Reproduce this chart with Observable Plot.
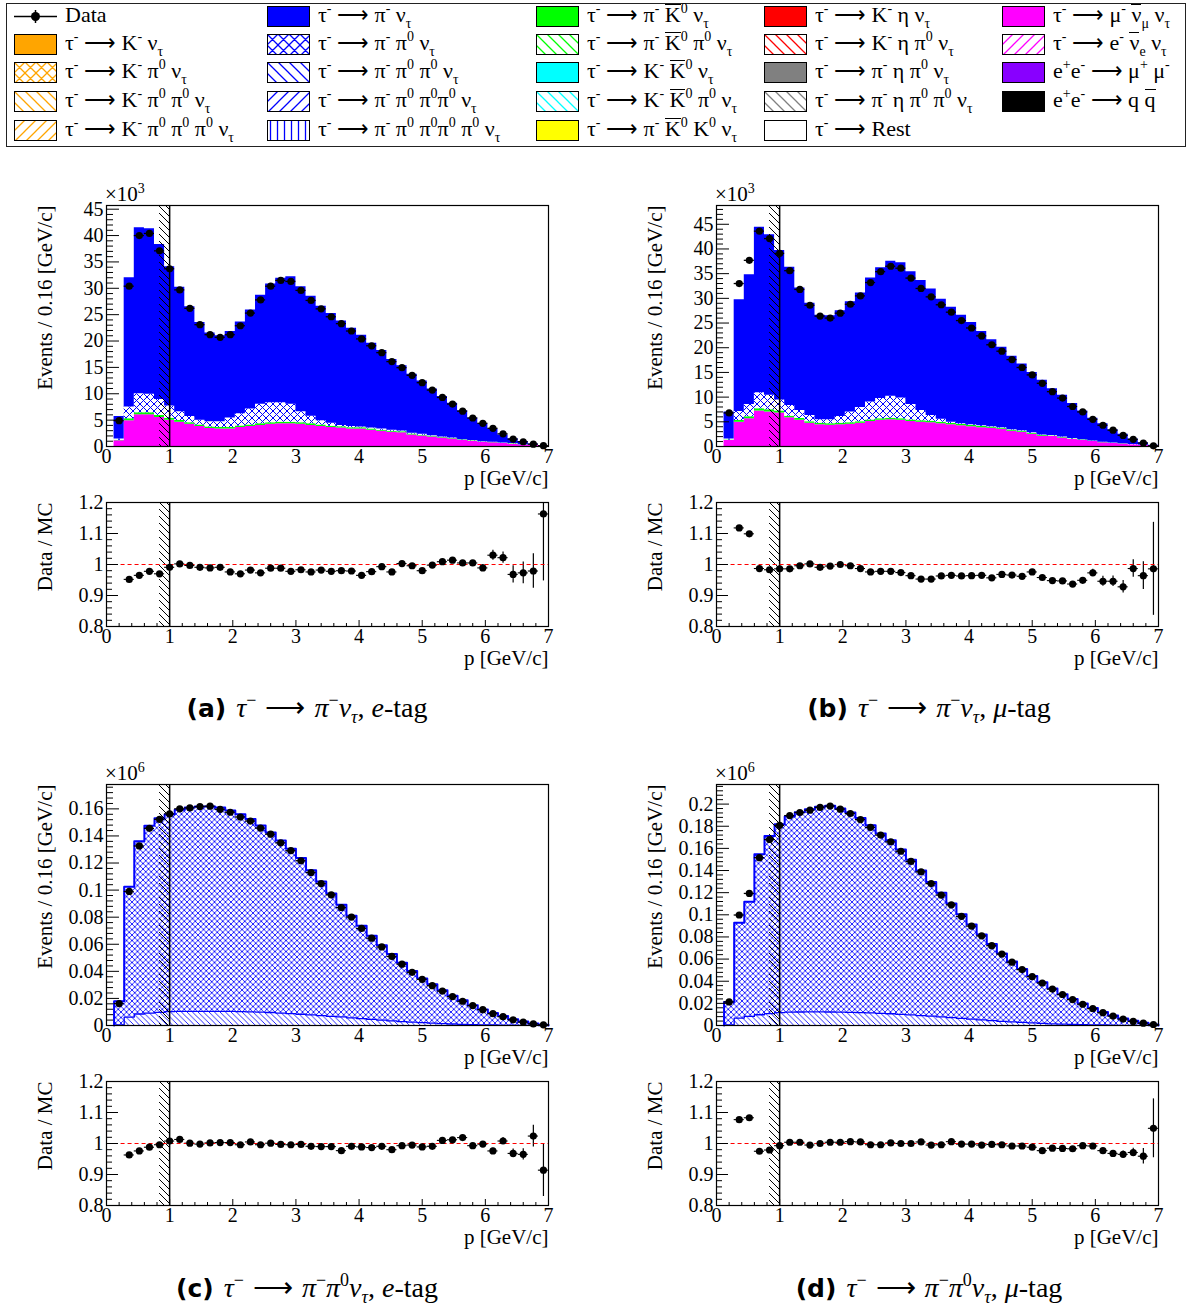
<!DOCTYPE html>
<html><head><meta charset="utf-8">
<script src="https://cdn.jsdelivr.net/npm/d3@7"></script>
<script src="https://cdn.jsdelivr.net/npm/@observablehq/plot@0.6"></script>
<style>
html,body{margin:0;padding:0;background:#fff;}
#root{position:relative;width:1190px;height:1307px;overflow:hidden;font-family:"Liberation Serif","Times New Roman",serif;color:#000;}
.pane{position:absolute;}
.pane svg{font-family:"Liberation Serif","Times New Roman",serif !important;}
.pane svg text{font-family:"Liberation Serif","Times New Roman",serif !important;}
#legendBox{position:absolute;left:6px;top:3px;width:1180px;height:144px;border:1px solid #222;box-sizing:border-box;}
.le{position:absolute;height:26px;line-height:26px;font-size:22px;white-space:nowrap;}
.sw{position:absolute;}
.su{font-size:14px;position:relative;top:-9px;}
.sb{font-size:14px;position:relative;top:6px;}
.ob{display:inline-block;line-height:19px;border-top:1.5px solid #000;}
.cap{position:absolute;text-align:center;font-size:28px;white-space:nowrap;line-height:32px;}
.cap b{font-family:"DejaVu Sans",sans-serif;font-size:25px;margin-right:10px;}
.cap .ar{margin:0 9px;}
.csu{font-size:18px;position:relative;top:-11px;}
.csb{font-size:18px;position:relative;top:6px;}
</style></head>
<body><div id="root"><div id="legendBox"></div></div>
<script>
// ---------------- data ----------------
const binLo = [0.12,0.28,0.44,0.60,0.76,0.92,1.08,1.24,1.40,1.56,1.72,1.88,2.04,2.20,2.36,2.52,2.68,2.84,3.00,3.16,3.32,3.48,3.64,3.80,3.96,4.12,4.28,4.44,4.60,4.76,4.92,5.08,5.24,5.40,5.56,5.72,5.88,6.04,6.20,6.36,6.52,6.68,6.84];
const BIN_W = 0.16;
const X_MAX = 7;
const exclusion = [0.84, 1.0];
const ratioLineStart = 0.12;

// (a) tau -> pi nu, e-tag   (units of 10^3)
const aTotal = [5.7,32.0,41.5,41.3,38.3,34.1,30.2,26.5,23.5,21.5,21.0,21.8,23.6,25.9,28.7,30.8,31.9,32.2,30.3,28.5,26.6,25.2,23.8,22.4,21.1,19.6,18.2,16.5,15.3,13.7,12.4,10.9,9.5,8.2,6.8,5.4,4.3,3.3,2.2,1.45,0.93,0.46,0.13];
const aData  = [4.9,30.4,40.0,40.4,37.1,33.7,29.7,26.2,23.1,21.2,20.7,21.2,22.9,25.3,27.8,30.4,31.5,31.3,29.6,27.7,26.1,24.6,23.3,21.9,20.4,19.1,17.8,16.1,14.95,13.5,12.1,10.7,9.3,8.05,6.7,5.4,4.4,3.45,2.4,1.4,0.9,0.45,0.15];
const aMuTop = [1.1,4.9,6.0,6.0,5.5,5.0,4.6,4.2,3.8,3.4,3.3,3.3,3.6,3.8,4.0,4.2,4.3,4.3,4.2,4.0,3.8,3.6,3.5,3.3,3.3,3.1,2.9,2.7,2.6,2.2,2.0,1.8,1.6,1.4,1.15,1.0,0.8,0.7,0.55,0.45,0.3,0.25,0.1];
const aGreen = [0.1,0.35,0.4,0.4,0.4,0.35,0.35,0.3,0.3,0.3,0.3,0.3,0.3,0.3,0.3,0.3,0.3,0.3,0.3,0.3,0.3,0.25,0.25,0.25,0.25,0.2,0.2,0.2,0.2,0.15,0.15,0.15,0.1,0.1,0.1,0.1,0.05,0.05,0.05,0.05,0.02,0.02,0.01];
const aPiPi0Top = [1.4,7.5,10.0,9.9,8.9,7.7,6.6,5.7,5.0,4.7,4.7,5.4,6.2,7.1,8.0,8.3,8.3,8.0,6.6,5.75,4.9,4.4,4.0,3.8,3.7,3.5,3.3,3.1,2.95,2.5,2.3,2.05,1.8,1.6,1.3,1.15,0.9,0.8,0.65,0.55,0.35,0.3,0.12];
const aRatio = [0.952,0.965,0.978,0.970,0.991,1.002,0.997,0.991,0.989,0.991,0.976,0.970,0.982,0.973,0.988,0.988,0.978,0.983,0.976,0.982,0.978,0.980,0.979,0.965,0.977,0.993,0.976,1.003,0.996,0.980,0.998,1.009,1.014,1.005,1.005,0.989,1.030,1.022,0.968,0.973,0.979,1.163];
const aRatioErr = [0.002,0.002,0.002,0.002,0.002,0.002,0.002,0.002,0.002,0.002,0.002,0.002,0.002,0.002,0.002,0.002,0.002,0.002,0.002,0.002,0.002,0.002,0.002,0.002,0.002,0.002,0.002,0.002,0.002,0.002,0.004,0.005,0.006,0.007,0.008,0.011,0.016,0.018,0.028,0.035,0.056,0.216];

// (b) tau -> pi nu, mu-tag   (units of 10^3)
const bTotal = [7.0,29.7,34.8,44.4,42.9,39.7,36.3,32.1,29.0,26.6,26.5,27.5,29.3,31.1,34.1,36.2,37.5,37.2,35.4,33.6,31.9,29.8,28.2,26.6,25.1,23.3,21.6,20.1,18.3,16.7,15.0,13.4,11.7,10.4,8.7,7.2,5.7,4.6,3.4,2.5,1.5,0.75,0.27];
const bData  = [6.8,33.0,37.7,43.6,42.1,39.1,35.6,31.8,28.6,26.4,26.0,27.0,28.8,30.5,33.2,35.4,36.5,36.1,34.1,32.0,30.3,28.7,27.2,25.5,24.0,22.4,20.6,19.3,17.6,16.0,14.5,12.8,11.1,9.8,8.1,7.0,5.5,4.3,3.3,2.25,1.45,0.7,0.14];
const bMuTop = [1.2,4.9,5.6,7.2,7.0,6.8,5.8,5.3,4.7,4.4,4.3,4.4,4.5,4.7,5.05,5.3,5.4,5.3,5.05,4.9,4.8,4.6,4.4,4.2,4.0,3.8,3.7,3.5,3.1,2.9,2.5,2.1,2.0,1.7,1.4,1.2,1.0,0.75,0.6,0.5,0.35,0.2,0.1];
const bGreen = [0.1,0.35,0.4,0.45,0.45,0.4,0.35,0.35,0.3,0.3,0.3,0.3,0.3,0.3,0.3,0.3,0.3,0.3,0.3,0.3,0.3,0.3,0.25,0.25,0.25,0.25,0.2,0.2,0.2,0.2,0.15,0.15,0.15,0.1,0.1,0.1,0.05,0.05,0.05,0.05,0.02,0.02,0.01];
const bPiPi0Top = [1.5,7.1,8.5,10.9,10.4,9.4,8.3,7.3,6.3,5.4,5.4,6.1,7.0,7.9,9.0,9.7,10.2,9.8,8.5,7.3,6.3,5.5,4.9,4.6,4.4,4.2,4.0,3.8,3.4,3.2,2.8,2.35,2.25,1.9,1.6,1.35,1.1,0.85,0.7,0.58,0.4,0.23,0.12];
const bRatio = [1.118,1.099,0.987,0.983,0.986,0.986,0.996,1.002,0.991,0.995,1.000,0.996,0.987,0.976,0.978,0.978,0.974,0.964,0.953,0.953,0.963,0.965,0.963,0.964,0.965,0.957,0.968,0.966,0.962,0.976,0.958,0.948,0.947,0.937,0.949,0.973,0.946,0.946,0.928,0.987,0.964,0.986];
const bRatioErr = [0.003,0.003,0.003,0.003,0.003,0.003,0.003,0.003,0.003,0.003,0.003,0.003,0.003,0.003,0.003,0.003,0.003,0.003,0.003,0.003,0.003,0.003,0.003,0.003,0.003,0.003,0.003,0.003,0.003,0.003,0.004,0.005,0.006,0.007,0.009,0.012,0.016,0.017,0.020,0.028,0.045,0.150];

// (c) tau -> pi pi0 nu, e-tag   (units of 10^6)
const cTotal = [0.018,0.1025,0.136,0.1476,0.153,0.1558,0.1593,0.161,0.1617,0.1617,0.161,0.1588,0.156,0.1525,0.1478,0.1426,0.1366,0.1306,0.1237,0.1147,0.1063,0.0975,0.0891,0.0811,0.0737,0.0662,0.0592,0.0528,0.0463,0.0403,0.0348,0.0304,0.0261,0.0219,0.0187,0.0149,0.0119,0.0092,0.007,0.0047,0.003,0.0015,0.0005];
const cData  = [0.0162,0.099,0.1326,0.1456,0.1523,0.1563,0.160,0.1607,0.1617,0.162,0.1597,0.1575,0.154,0.151,0.1458,0.1413,0.1349,0.1291,0.1217,0.113,0.1048,0.0965,0.0871,0.0801,0.0717,0.0645,0.058,0.051,0.0453,0.0393,0.0341,0.0294,0.0254,0.0214,0.0179,0.0147,0.0117,0.0087,0.0065,0.0042,0.0025,0.0012,0.0005];
const cPi2Pi0Top = [0.0005,0.0062,0.0085,0.0092,0.0097,0.0102,0.0104,0.0105,0.0105,0.0105,0.0105,0.0104,0.0103,0.0101,0.0099,0.0096,0.0092,0.0088,0.0083,0.0078,0.0073,0.0068,0.0063,0.0057,0.0051,0.0045,0.0039,0.0034,0.0029,0.0025,0.0021,0.0017,0.0014,0.0011,0.0009,0.0007,0.0005,0.0004,0.0003,0.0002,0.0001,0.0001,0.0];
const cRatio = [0.963,0.976,0.988,0.996,1.008,1.013,1.001,0.998,1.002,1.003,1.003,0.996,1.005,0.996,1.001,0.997,0.996,0.997,0.991,0.990,0.990,0.977,0.991,0.989,0.987,0.991,0.980,0.993,0.995,0.989,0.991,1.010,1.012,1.019,0.993,0.998,0.976,1.008,0.968,0.965,1.024,0.914];
const cRatioErr = [0.002,0.002,0.002,0.002,0.002,0.002,0.002,0.002,0.002,0.002,0.002,0.002,0.002,0.002,0.002,0.002,0.002,0.002,0.002,0.002,0.002,0.002,0.002,0.002,0.002,0.002,0.002,0.002,0.002,0.002,0.003,0.003,0.004,0.004,0.005,0.007,0.009,0.011,0.014,0.018,0.035,0.085];

// (d) tau -> pi pi0 nu, mu-tag   (units of 10^6)
const dTotal = [0.0213,0.0928,0.1117,0.1546,0.1711,0.1817,0.1887,0.1927,0.1954,0.1976,0.1985,0.196,0.1924,0.1875,0.1808,0.1735,0.1674,0.1589,0.1498,0.14,0.1297,0.1199,0.1102,0.1005,0.0913,0.0822,0.0737,0.0651,0.0578,0.0511,0.0447,0.039,0.0335,0.0283,0.024,0.0198,0.0158,0.0122,0.0091,0.0064,0.0043,0.0024,0.0009];
const dData  = [0.0213,0.0998,0.1193,0.1516,0.168,0.1808,0.1896,0.1924,0.1945,0.197,0.1982,0.1954,0.1915,0.186,0.179,0.172,0.1659,0.1574,0.1482,0.1388,0.1282,0.1178,0.109,0.0986,0.0898,0.081,0.0721,0.0645,0.0572,0.0505,0.0441,0.0384,0.0329,0.028,0.0234,0.0192,0.0152,0.0116,0.0085,0.0058,0.0037,0.0021,0.0009];
const dPi2Pi0Top = [0.0005,0.0067,0.0082,0.0097,0.0107,0.0116,0.0120,0.0122,0.0123,0.0123,0.0122,0.0121,0.0119,0.0117,0.0114,0.0110,0.0106,0.0101,0.0096,0.0090,0.0084,0.0078,0.0071,0.0064,0.0057,0.0050,0.0044,0.0038,0.0033,0.0028,0.0023,0.0019,0.0015,0.0012,0.0010,0.0008,0.0006,0.0005,0.0003,0.0002,0.0002,0.0001,0.0];
const dRatio = [1.077,1.083,0.975,0.979,0.993,1.004,1.004,0.995,1.000,1.004,1.004,1.006,1.005,0.996,0.996,1.002,1.000,1.000,1.005,0.995,0.996,1.006,0.998,0.998,0.995,0.997,0.996,0.992,0.992,0.988,0.977,0.985,0.984,0.983,0.993,0.992,0.977,0.968,0.965,0.971,0.959,1.049];
const dRatioErr = [0.002,0.002,0.002,0.002,0.002,0.002,0.002,0.002,0.002,0.002,0.002,0.002,0.002,0.002,0.002,0.002,0.002,0.002,0.002,0.002,0.002,0.002,0.002,0.002,0.002,0.002,0.002,0.002,0.002,0.002,0.003,0.003,0.003,0.004,0.005,0.006,0.008,0.009,0.011,0.014,0.025,0.095];

// axis ticks
const xMajor = [0,1,2,3,4,5,6,7];
const xMinor = [0.2,0.4,0.6,0.8,1.2,1.4,1.6,1.8,2.2,2.4,2.6,2.8,3.2,3.4,3.6,3.8,4.2,4.4,4.6,4.8,5.2,5.4,5.6,5.8,6.2,6.4,6.6,6.8];
const yMajorAB = [0,5,10,15,20,25,30,35,40,45];
const yMajorC = [0,0.02,0.04,0.06,0.08,0.1,0.12,0.14,0.16];
const yMajorD = [0,0.02,0.04,0.06,0.08,0.1,0.12,0.14,0.16,0.18,0.2];
const yMajorR = [0.8,0.9,1.0,1.1,1.2];
const yMaxA = 45.7, yMaxB = 48.8, yMaxC = 0.178, yMaxD = 0.2177;
const yRangeR = [0.8, 1.2];
const titleMain = "Events / 0.16 [GeV/c]";
const titleRatio = "Data / MC";
const titleX = "p [GeV/c]";

// colours
const C = {blue:"#0000ff", orange:"#ffa500", green:"#00ff00", cyan:"#00ffff", yellow:"#ffff00",
  red:"#ff0000", gray:"#808080", magenta:"#ff00ff", purple:"#8800ff", black:"#000000"};

// ---------------- patterns ----------------
function patternDef(id, color, kind, sp, bg, sw){
  let d = "";
  if (kind === "b" || kind === "x") d += `M-1,-1L${sp+1},${sp+1}M-1,${sp-1}L1,${sp+1}M${sp-1},-1L${sp+1},1`;
  if (kind === "f" || kind === "x") d += `M-1,${sp+1}L${sp+1},-1M-1,1L1,-1M${sp-1},${sp+1}L${sp+1},${sp-1}`;
  if (kind === "v") d += `M${sp/2},0L${sp/2},${sp}`;
  return `<pattern id="${id}" patternUnits="userSpaceOnUse" width="${sp}" height="${sp}">` +
    (bg ? `<rect width="${sp}" height="${sp}" fill="${bg}"/>` : "") +
    `<path d="${d}" stroke="${color}" stroke-width="${sw}" fill="none"/></pattern>`;
}
const patternSpecs = [
  ["pXBlueAB", C.blue, "x", 7, "#fff", 1],
  ["pXBlueCD", C.blue, "x", 5.5, "#fff", 0.85],
  ["pBBlue", C.blue, "b", 5.5, "#fff", 0.85],
  ["pExcl", "#000", "b", 7, null, 1],
];
const legendKinds = {x:"x", b:"b", f:"f", v:"v"};
for (const [cn, col] of Object.entries(C)) for (const k of Object.keys(legendKinds))
  patternSpecs.push([`L_${k}_${cn}`, col, k, k === "v" ? 7 : 11, "#fff", 1.3]);
const defsHolder = document.createElement("div");
defsHolder.style.cssText = "position:absolute;width:0;height:0;overflow:hidden";
defsHolder.innerHTML = `<svg width="0" height="0"><defs>${patternSpecs.map(s => patternDef(...s)).join("")}</defs></svg>`;
document.getElementById("root").appendChild(defsHolder);

// ---------------- helpers ----------------
const SVGNS = "http://www.w3.org/2000/svg";
const FONT = "'Liberation Serif', 'Times New Roman', serif";
function stepRows(lo, hi){
  const rows = binLo.map((x, i) => ({x, y1: lo ? lo[i] : 0, y2: hi[i]}));
  const last = rows[rows.length - 1];
  rows.push({x: X_MAX, y1: last.y1, y2: last.y2});
  return rows;
}
function outlineRows(top){
  const rows = [{x: binLo[0], y: 0}, ...binLo.map((x, i) => ({x, y: top[i]}))];
  rows.push({x: X_MAX, y: top[top.length - 1]}, {x: X_MAX, y: 0});
  return rows;
}
function expMark(exp){
  return (index, scales, values, dims) => {
    const t = document.createElementNS(SVGNS, "text");
    t.setAttribute("x", dims.marginLeft - 1);
    t.setAttribute("y", dims.marginTop - 4);
    t.setAttribute("font-size", 21);
    t.setAttribute("text-anchor", "start");
    t.setAttribute("font-family", FONT);
    t.appendChild(document.createTextNode("×10"));
    const s = document.createElementNS(SVGNS, "tspan");
    s.setAttribute("dy", -8); s.setAttribute("font-size", 14);
    s.textContent = exp;
    t.appendChild(s);
    return t;
  };
}
const W = 570, mL = 106, mR = 22, FW = W - mL - mR;
const fmtNum = d => String(+(+d).toFixed(3));
const STYLE = `font-family: ${FONT}; font-size: 20px; color: #000; background: transparent; overflow: visible;`;
const TICKTXT = {fontSize: 20, fontFamily: FONT};
const TITLETXT = {fontSize: 21, fontFamily: FONT};
function axisTitleMarks(yTitle, xTitleDy){
  return [
    Plot.text([yTitle], {frameAnchor: "top-left", rotate: -90, textAnchor: "end", lineAnchor: "middle", dx: -61, ...TITLETXT}),
    Plot.text([titleX], {frameAnchor: "bottom-right", textAnchor: "end", lineAnchor: "middle", dy: xTitleDy, ...TITLETXT})
  ];
}

function mainPanel(o){
  const H = 310, mT = 25, mB = 44, FH = H - mT - mB;
  const marks = [];
  for (const L of o.layers)
    marks.push(Plot.areaY(stepRows(L.lo, L.hi), {x: "x", y1: "y1", y2: "y2", curve: "step-after", fill: L.fill}));
  for (const Ln of (o.outlines || []))
    marks.push(Plot.lineY(outlineRows(Ln.top), {x: "x", y: "y", curve: "step-after", stroke: C.blue, strokeWidth: Ln.w}));
  marks.push(Plot.rect([exclusion], {x1: d => d[0], x2: d => d[1], fill: "url(#pExcl)"}));
  marks.push(Plot.ruleX([exclusion[1]], {stroke: "#000", strokeWidth: 1.5}));
  const pts = binLo.map((x, i) => ({lo: x, hi: x + BIN_W, c: x + BIN_W / 2, v: o.data[i]}));
  marks.push(Plot.ruleY(pts, {y: "v", x1: "lo", x2: "hi", stroke: "#000", strokeWidth: 1.3}));
  marks.push(Plot.dot(pts, {x: "c", y: "v", r: 3.6, fill: "#000"}));
  marks.push(Plot.tickY(o.yMinor, {y: d => d, insetRight: FW - 7, stroke: "#000"}));
  marks.push(Plot.tickY(o.yMajor, {y: d => d, insetRight: FW - 13, stroke: "#000"}));
  marks.push(Plot.axisY({ticks: o.yMajor, tickSize: 0, tickPadding: 3, tickFormat: fmtNum, label: null, ...TICKTXT}));
  marks.push(Plot.axisX({ticks: xMajor, tickSize: 0, tickPadding: 2, tickFormat: d => String(d), label: null, ...TICKTXT}));
  marks.push(Plot.frame({stroke: "#000", strokeWidth: 1.2}));
  marks.push(...axisTitleMarks(titleMain, 32));
  marks.push(expMark(o.exp));
  return Plot.plot({width: W, height: H, marginLeft: mL, marginRight: mR, marginTop: mT, marginBottom: mB,
    x: {domain: [0, X_MAX], axis: null}, y: {domain: [0, o.yMax], axis: null}, style: STYLE, marks});
}

const yMinorR = [0.82,0.84,0.86,0.88,0.92,0.94,0.96,0.98,1.02,1.04,1.06,1.08,1.12,1.14,1.16,1.18];
function ratioPanel(o){
  const H = 180, mT = 12, mB = 44, FH = H - mT - mB;
  const pts = o.ratio.map((r, i) => ({lo: binLo[i + 1], hi: binLo[i + 1] + BIN_W, c: binLo[i + 1] + BIN_W / 2, r, e: o.err[i]}));
  const marks = [
    Plot.rect([exclusion], {x1: d => d[0], x2: d => d[1], fill: "url(#pExcl)"}),
    Plot.ruleX([exclusion[1]], {stroke: "#000", strokeWidth: 1.5}),
    Plot.ruleX(pts, {x: "c", y1: d => d.r - d.e, y2: d => d.r + d.e, stroke: "#000", strokeWidth: 1.2, clip: true}),
    Plot.ruleY(pts, {y: "r", x1: "lo", x2: "hi", stroke: "#000", strokeWidth: 1.1, clip: true}),
    Plot.ruleY([1], {x1: ratioLineStart, x2: X_MAX, stroke: "#ff0000", strokeDasharray: "4,3", strokeWidth: 1}),
    Plot.dot(pts, {x: "c", y: "r", r: 3.6, fill: "#000", clip: true}),
    Plot.tickX(xMinor, {x: d => d, insetTop: FH - 3, stroke: "#000"}),
    Plot.tickX(xMajor, {x: d => d, insetTop: FH - 6, stroke: "#000"}),
    Plot.tickY(yMinorR, {y: d => d, insetRight: FW - 6, stroke: "#000"}),
    Plot.tickY(yMajorR, {y: d => d, insetRight: FW - 12, stroke: "#000"}),
    Plot.axisY({ticks: yMajorR, tickSize: 0, tickPadding: 3, tickFormat: d => String(+(+d).toFixed(1)), label: null, ...TICKTXT}),
    Plot.axisX({ticks: xMajor, tickSize: 0, tickPadding: 2, tickFormat: d => String(d), label: null, ...TICKTXT}),
    Plot.frame({stroke: "#000", strokeWidth: 1.2}),
    ...axisTitleMarks(titleRatio, 32)
  ];
  return Plot.plot({width: W, height: H, marginLeft: mL, marginRight: mR, marginTop: mT, marginBottom: mB,
    x: {domain: [0, X_MAX], axis: null}, y: {domain: yRangeR, axis: null}, style: STYLE, marks});
}

function place(node, left, top){
  const d = document.createElement("div");
  d.className = "pane"; d.style.left = left + "px"; d.style.top = top + "px";
  d.appendChild(node);
  document.getElementById("root").appendChild(d);
}

function stackAB(mu, green, xTop, total){
  const muG = mu.map((v, i) => v + green[i]);
  const xT = xTop.map((v, i) => Math.max(v, muG[i]));
  return [
    {lo: null, hi: mu, fill: C.magenta},
    {lo: mu, hi: muG, fill: C.green},
    {lo: muG, hi: xT, fill: "url(#pXBlueAB)"},
    {lo: xT, hi: total, fill: C.blue}
  ];
}
const yMinorAB = [1,2,3,4,6,7,8,9,11,12,13,14,16,17,18,19,21,22,23,24,26,27,28,29,31,32,33,34,36,37,38,39,41,42,43,44,46,47,48];
const yMinorCD = [0.004,0.008,0.012,0.016,0.024,0.028,0.032,0.036,0.044,0.048,0.052,0.056,0.064,0.068,0.072,0.076,0.084,0.088,0.092,0.096,0.104,0.108,0.112,0.116,0.124,0.128,0.132,0.136,0.144,0.148,0.152,0.156,0.164,0.168,0.172,0.176,0.184,0.188,0.192,0.196,0.204,0.208,0.212,0.216];

place(mainPanel({layers: stackAB(aMuTop, aGreen, aPiPi0Top, aTotal), data: aData, yMax: yMaxA,
  yMajor: yMajorAB, yMinor: yMinorAB.filter(v => v < yMaxA), exp: "3"}), 0, 180);
place(mainPanel({layers: stackAB(bMuTop, bGreen, bPiPi0Top, bTotal), data: bData, yMax: yMaxB,
  yMajor: yMajorAB, yMinor: yMinorAB.filter(v => v < yMaxB), exp: "3"}), 610, 180);
place(ratioPanel({ratio: aRatio, err: aRatioErr}), 0, 490);
place(ratioPanel({ratio: bRatio, err: bRatioErr}), 610, 490);

place(mainPanel({layers: [{lo: null, hi: cPi2Pi0Top, fill: "url(#pBBlue)"}, {lo: cPi2Pi0Top, hi: cTotal, fill: "url(#pXBlueCD)"}],
  outlines: [{top: cPi2Pi0Top, w: 1.3}, {top: cTotal, w: 2}], data: cData, yMax: yMaxC,
  yMajor: yMajorC, yMinor: yMinorCD.filter(v => v < yMaxC), exp: "6"}), 0, 759);
place(mainPanel({layers: [{lo: null, hi: dPi2Pi0Top, fill: "url(#pBBlue)"}, {lo: dPi2Pi0Top, hi: dTotal, fill: "url(#pXBlueCD)"}],
  outlines: [{top: dPi2Pi0Top, w: 1.3}, {top: dTotal, w: 2}], data: dData, yMax: yMaxD,
  yMajor: yMajorD, yMinor: yMinorCD.filter(v => v < yMaxD), exp: "6"}), 610, 759);
place(ratioPanel({ratio: cRatio, err: cRatioErr}), 0, 1069);
place(ratioPanel({ratio: dRatio, err: dRatioErr}), 610, 1069);

// ---------------- legend ----------------
const su = s => `<span class="su">${s}</span>`, sb = s => `<span class="sb">${s}</span>`, ob = s => `<span class="ob">${s}</span>`;
const T = `τ${su("-")} ⟶ `;
const legendCols = [14, 267, 536, 764, 1002];
const legendRows = [16, 44, 72, 101, 130];
const legendEntries = [
  [0,0,"data",null,"Data"],
  [0,1,"solid","orange",`${T}K${su("-")} ν${sb("τ")}`],
  [0,2,"x","orange",`${T}K${su("-")} π${su("0")} ν${sb("τ")}`],
  [0,3,"b","orange",`${T}K${su("-")} π${su("0")} π${su("0")} ν${sb("τ")}`],
  [0,4,"f","orange",`${T}K${su("-")} π${su("0")} π${su("0")} π${su("0")} ν${sb("τ")}`],
  [1,0,"solid","blue",`${T}π${su("-")} ν${sb("τ")}`],
  [1,1,"x","blue",`${T}π${su("-")} π${su("0")} ν${sb("τ")}`],
  [1,2,"b","blue",`${T}π${su("-")} π${su("0")} π${su("0")} ν${sb("τ")}`],
  [1,3,"f","blue",`${T}π${su("-")} π${su("0")} π${su("0")}π${su("0")} ν${sb("τ")}`],
  [1,4,"v","blue",`${T}π${su("-")} π${su("0")} π${su("0")}π${su("0")} π${su("0")} ν${sb("τ")}`],
  [2,0,"solid","green",`${T}π${su("-")} ${ob("K")}${su("0")} ν${sb("τ")}`],
  [2,1,"b","green",`${T}π${su("-")} ${ob("K")}${su("0")} π${su("0")} ν${sb("τ")}`],
  [2,2,"solid","cyan",`${T}K${su("-")} ${ob("K")}${su("0")} ν${sb("τ")}`],
  [2,3,"b","cyan",`${T}K${su("-")} ${ob("K")}${su("0")} π${su("0")} ν${sb("τ")}`],
  [2,4,"solid","yellow",`${T}π${su("-")} ${ob("K")}${su("0")} K${su("0")} ν${sb("τ")}`],
  [3,0,"solid","red",`${T}K${su("-")} η ν${sb("τ")}`],
  [3,1,"b","red",`${T}K${su("-")} η π${su("0")} ν${sb("τ")}`],
  [3,2,"solid","gray",`${T}π${su("-")} η π${su("0")} ν${sb("τ")}`],
  [3,3,"b","gray",`${T}π${su("-")} η π${su("0")} π${su("0")} ν${sb("τ")}`],
  [3,4,"white",null,`${T}Rest`],
  [4,0,"solid","magenta",`τ${su("-")} ⟶ μ${su("-")} ${ob("ν")}${sb("μ")} ν${sb("τ")}`],
  [4,1,"f","magenta",`τ${su("-")} ⟶ e${su("-")} ${ob("ν")}${sb("e")} ν${sb("τ")}`],
  [4,2,"solid","purple",`e${su("+")}e${su("-")} ⟶ μ${su("+")} μ${su("-")}`],
  [4,3,"solid","black",`e${su("+")}e${su("-")} ⟶ q ${ob("q")}`]
];
const root = document.getElementById("root");
for (const [c, r, kind, col, label] of legendEntries){
  const x = legendCols[c], y = legendRows[r];
  const sw = document.createElement("div");
  sw.className = "sw"; sw.style.left = x + "px"; sw.style.top = (y - 10) + "px";
  let inner;
  if (kind === "data") inner = `<line x1="0" y1="10.5" x2="43" y2="10.5" stroke="#000" stroke-width="1.5"/><line x1="21.5" y1="4" x2="21.5" y2="17" stroke="#000" stroke-width="1.5"/><circle cx="21.5" cy="10.5" r="4.5" fill="#000"/>`;
  else {
    const fill = kind === "solid" ? C[col] : kind === "white" ? "#fff" : `url(#L_${kind}_${col})`;
    inner = `<rect x="0.5" y="0.5" width="42" height="20" fill="${fill}" stroke="#000" stroke-width="1"/>`;
  }
  sw.innerHTML = `<svg width="43" height="21">${inner}</svg>`;
  root.appendChild(sw);
  const t = document.createElement("div");
  t.className = "le"; t.style.left = (x + 51) + "px"; t.style.top = (y - 14) + "px";
  t.innerHTML = label;
  root.appendChild(t);
}

// ---------------- captions ----------------
const csu = s => `<span class="csu">${s}</span>`, csb = s => `<span class="csb">${s}</span>`;
const AR = `<span class="ar">⟶</span>`;
const captions = [
  ["a", 0, 692, `<i>τ</i>${csu("−")}${AR}<i>π</i>${csu("−")}<i>ν</i>${csb("<i>τ</i>")}, <i>e</i>-tag`],
  ["b", 622, 692, `<i>τ</i>${csu("−")}${AR}<i>π</i>${csu("−")}<i>ν</i>${csb("<i>τ</i>")}, <i>μ</i>-tag`],
  ["c", 0, 1272, `<i>τ</i>${csu("−")}${AR}<i>π</i>${csu("−")}<i>π</i>${csu("0")}<i>ν</i>${csb("<i>τ</i>")}, <i>e</i>-tag`],
  ["d", 622, 1272, `<i>τ</i>${csu("−")}${AR}<i>π</i>${csu("−")}<i>π</i>${csu("0")}<i>ν</i>${csb("<i>τ</i>")}, <i>μ</i>-tag`]
];
for (const [k, x, y, html] of captions){
  const d = document.createElement("div");
  d.className = "cap"; d.style.left = x + "px"; d.style.top = y + "px"; d.style.width = "614px";
  d.innerHTML = `<b>(${k})</b>${html}`;
  root.appendChild(d);
}
</script>
</body></html>
